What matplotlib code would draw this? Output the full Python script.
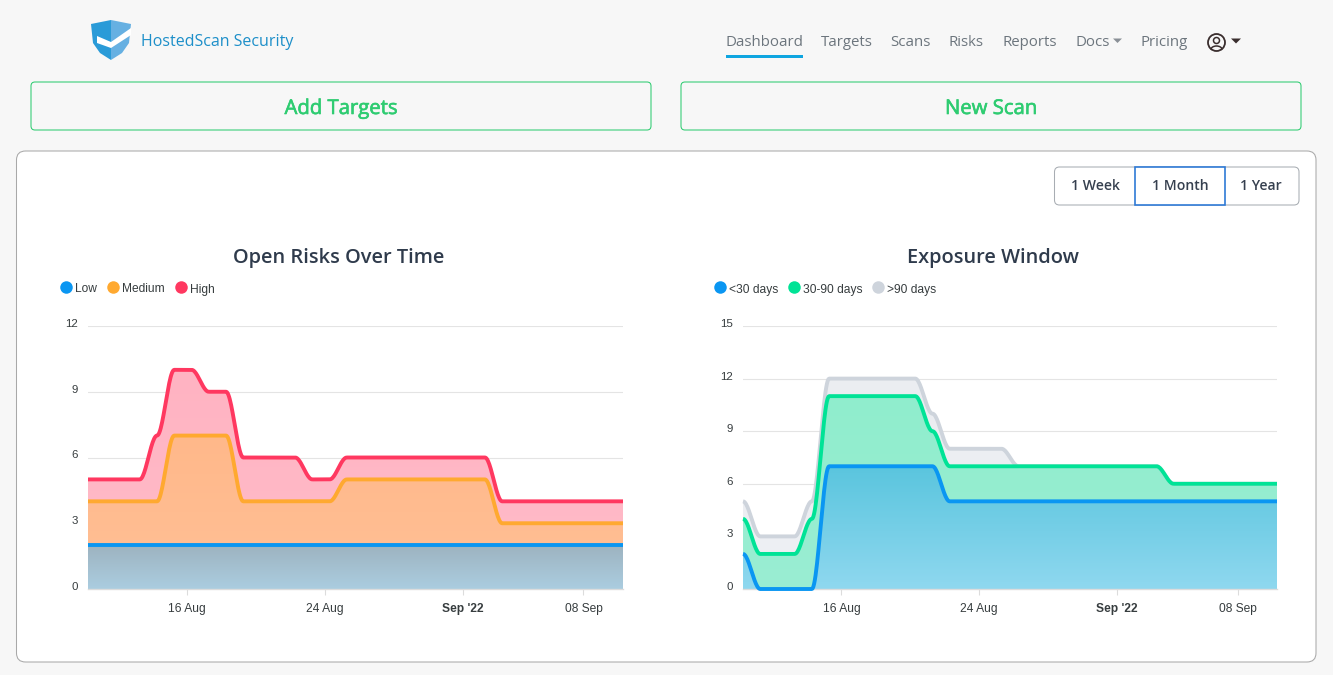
import numpy as np
import matplotlib
matplotlib.use("Agg")
import matplotlib.pyplot as plt
import matplotlib.dates as mdates
import matplotlib.patheffects as pe
from matplotlib.patches import FancyBboxPatch, Polygon, Circle, Rectangle, Arc
from matplotlib.transforms import ScaledTranslation
from matplotlib.colors import to_rgb
import datetime as dt

# ---------- data ----------
start_day = dt.datetime(2022, 8, 10, 7, 0)
low_risk = [2] * 32
medium_risk = [4, 4, 4, 4, 4, 7, 7, 7, 7, 4, 4, 4, 4, 4, 4, 5, 5, 5, 5, 5, 5, 5, 5, 5, 3, 3, 3, 3, 3, 3, 3, 3]
high_risk = [5, 5, 5, 5, 7, 10, 10, 9, 9, 6, 6, 6, 6, 5, 5, 6, 6, 6, 6, 6, 6, 6, 6, 6, 4, 4, 4, 4, 4, 4, 4, 4]
under_30 = [2, 0, 0, 0, 0, 7, 7, 7, 7, 7, 7, 7, 5, 5, 5, 5, 5, 5, 5, 5, 5, 5, 5, 5, 5, 5, 5, 5, 5, 5, 5, 5]
d30_90 = [4, 2, 2, 2, 4, 11, 11, 11, 11, 11, 11, 9, 7, 7, 7, 7, 7, 7, 7, 7, 7, 7, 7, 7, 7, 6, 6, 6, 6, 6, 6, 6]
over_90 = [5, 3, 3, 3, 5, 12, 12, 12, 12, 12, 12, 10, 8, 8, 8, 8, 7, 7, 7, 7, 7, 7, 7, 7, 7, 6, 6, 6, 6, 6, 6, 6]
tick_dates = [dt.datetime(2022, 8, 16), dt.datetime(2022, 8, 24), dt.datetime(2022, 9, 1), dt.datetime(2022, 9, 8)]
tick_labels = ["16 Aug", "24 Aug", "Sep '22", "08 Sep"]
nav_items = ["Dashboard", "Targets", "Scans", "Risks", "Reports", "Docs", "Pricing"]
range_buttons = ["1 Week", "1 Month", "1 Year"]

W, H = 1333, 675
UI = "Open Sans"
CH = ["Liberation Sans", "DejaVu Sans"]
fig = plt.figure(figsize=(W / 100, H / 100), dpi=100, facecolor="#f7f7f7")
ui = fig.add_axes([0, 0, 1, 1], zorder=0)
ui.set_xlim(0, W); ui.set_ylim(H, 0); ui.axis("off")


def px(v):
    return v * 0.72


def rbox(x0, y0, x1, y1, r, fc, ec, lw=0.75, z=1):
    ui.add_patch(FancyBboxPatch((x0 + r, y0 + r), x1 - x0 - 2 * r, y1 - y0 - 2 * r,
                                boxstyle=f"round,pad={r},rounding_size={r}", fc=fc, ec=ec, lw=lw, zorder=z))


# ---------- header ----------
ui.add_patch(Polygon([(91, 24), (111, 20), (111, 60), (100, 53), (93, 43)], fc="#2a9bd8", ec="none", zorder=2))
ui.add_patch(Polygon([(111, 20), (131, 24), (129, 43), (122, 53), (111, 60)], fc="#66b0e2", ec="none", zorder=2))
ui.add_patch(Polygon([(97, 36), (111, 42), (131, 28), (131, 35), (111, 48), (97, 43)], fc="white", ec="none", zorder=3))
ui.text(141, 42.5, "HostedScan Security", family=UI, fontsize=px(16), color="#1d8fc9", va="center", ha="left")

nav_x = [725.5, 821, 890.5, 949, 1002, 1075.5, 1141]
for name, x in zip(nav_items, nav_x):
    ui.text(x, 42 if name != "Docs" else 43, name, family=UI, fontsize=px(15), color="#6c757d", va="center", ha="left")
ui.add_patch(Rectangle((726, 55), 77, 3, fc="#0ea5e0", ec="none"))
ui.add_patch(Polygon([(1113, 38.5), (1122, 38.5), (1117.5, 43)], fc="#8a9097", ec="none"))
ui.add_patch(Circle((1216.5, 42.5), 8.5, fc="none", ec="#3a2e2e", lw=1.3))
ui.add_patch(Circle((1216.5, 40.5), 3.0, fc="none", ec="#3a2e2e", lw=1.1))
ui.add_patch(Arc((1216.5, 49.5), 11, 7, theta1=180, theta2=360, ec="#3a2e2e", lw=1.1))
ui.add_patch(Polygon([(1231, 38.5), (1241, 38.5), (1236, 43.5)], fc="#3a2e2e", ec="none"))

# ---------- green buttons ----------
for (x0, x1, label) in [(31, 651, "Add Targets"), (681, 1301, "New Scan")]:
    rbox(x0, 82, x1, 130, 4, "#f7f7f7", "#2ecc71")
    t = ui.text((x0 + x1) / 2, 109, label, family=UI, fontsize=px(20.3), color="#2ecc71", va="center", ha="center")
    t.set_path_effects([pe.withStroke(linewidth=0.45, foreground="#2ecc71")])

# ---------- card ----------
rbox(16.5, 151, 1316, 662, 9, "white", "#a9a9a9")

# ---------- range buttons ----------
rbox(1054.5, 167, 1299, 205, 5, "white", "#a8adb3", z=2)
ui.add_patch(Rectangle((1135, 167), 90, 38, fc="white", ec="#2f7ad6", lw=1.2, zorder=3))
for label, x in zip(range_buttons, [1095, 1180, 1261]):
    ui.text(x, 186, label, family=UI, fontsize=px(14), color="#36404f", va="center", ha="center", weight="semibold", zorder=4)


# ---------- charts ----------
def smooth(x, y, n=24):
    """Horizontal-tangent bezier, as the original chart library draws smooth lines."""
    x = np.asarray(x, float); y = np.asarray(y, float)
    s = np.linspace(0, 1, n, endpoint=False)[:, None]
    x0, x1, y0, y1 = x[:-1], x[1:], y[:-1], y[1:]
    c = 0.35 * (x1 - x0)
    bx = (1 - s) ** 3 * x0 + 3 * (1 - s) ** 2 * s * (x0 + c) + 3 * (1 - s) * s ** 2 * (x1 - c) + s ** 3 * x1
    by = (1 - s) ** 3 * y0 + 3 * (1 - s) ** 2 * s * y0 + 3 * (1 - s) * s ** 2 * y1 + s ** 3 * y1
    return np.r_[bx.T.ravel(), x[-1]], np.r_[by.T.ravel(), y[-1]]


def chart(left, right, ymax, yticks, title, title_x, series, legend_pos):
    ax = fig.add_axes([left / W, (H - 589) / H, (right - left) / W, 263 / H], zorder=2)
    ax.patch.set_alpha(0)
    xs = mdates.date2num([start_day + dt.timedelta(days=i) for i in range(32)])
    for s in ("top", "left", "right"):
        ax.spines[s].set_visible(False)
    ax.spines["bottom"].set_color("#dcdcdc"); ax.spines["bottom"].set_linewidth(1.0)
    ax.set_yticks(yticks); ax.set_yticklabels([str(t) for t in yticks], family=CH, fontsize=px(11.5), color="#373d3f")
    ax.set_xticks(mdates.date2num(tick_dates)); ax.set_xticklabels(tick_labels, family=CH, fontsize=px(12), color="#373d3f")
    ax.tick_params(axis="y", length=0, pad=7)
    ax.tick_params(axis="x", length=4.3, width=0.8, color="#dcdcdc", pad=5.5)
    ax.xaxis.get_ticklabels()[2].set_weight("bold")
    shift = ScaledTranslation(0, 3 / 100, fig.dpi_scale_trans)
    for lbl in ax.yaxis.get_ticklabels():
        lbl.set_transform(lbl.get_transform() + shift)
    ax.grid(axis="y", color="#e4e4e4", lw=0.8, zorder=0)
    ax.set_axisbelow(True)
    ui.text(title_x, 258, title, family=UI, fontsize=px(20), weight="semibold", color="#2f3b4c", ha="center", va="center", zorder=5)

    for z, (name, vals, line, top, bottom) in enumerate(series):
        cx, cy = smooth(xs, vals)
        poly = ax.fill_between(cx, cy, 0, color="none", lw=0)
        grad = np.linspace(0, 1, 256)[:, None, None] * (np.array(to_rgb(bottom)) - np.array(to_rgb(top))) + np.array(to_rgb(top))
        im = ax.imshow(grad, extent=[xs[0], xs[-1], 0, max(vals)], origin="upper", aspect="auto", zorder=2 + z * 0.1, interpolation="bilinear")
        im.set_clip_path(poly.get_paths()[0], ax.transData)
    ax.set_xlim(xs[0], xs[-1]); ax.set_ylim(0, ymax)
    for z, (name, vals, line, top, bottom) in enumerate(series):
        cx, cy = smooth(xs, vals)
        ax.plot(cx, cy, color=line, lw=2.8, zorder=4 + z * 0.1, clip_on=False, solid_capstyle="butt")

    for (name, vals, line, top, bottom), (dot_x, text_x) in zip(reversed(series), legend_pos):
        ui.scatter([dot_x], [287], s=(12.5 * 0.72) ** 2, c=line, lw=0, zorder=5)
        ui.text(text_x, 292.5, name, family=CH, fontsize=px(12), color="#373d3f", va="baseline", ha="left", zorder=5)
    return ax


chart(88, 623, 12, [0, 3, 6, 9, 12], "Open Risks Over Time", 339,
      [("High", high_risk, "#ff3860", "#ffb3c2", "#ffbcc9"),
       ("Medium", medium_risk, "#ffa930", "#ffb88a", "#ffc096"),
       ("Low", low_risk, "#0a96f2", "#9db3c0", "#abcde0")],
      [(66, 75), (113, 122), (181, 190)])
chart(743, 1277, 15, [0, 3, 6, 9, 12, 15], "Exposure Window", 993,
      [(">90 days", over_90, "#ced4dc", "#ebedf1", "#eef0f4"),
       ("30-90 days", d30_90, "#00e396", "#90edcd", "#9aeed3"),
       ("<30 days", under_30, "#0a96f2", "#5ac5de", "#8fd8ef")],
      [(720, 729), (794, 803), (878, 887)])

fig.savefig("out.png", dpi=100, facecolor=fig.get_facecolor())
